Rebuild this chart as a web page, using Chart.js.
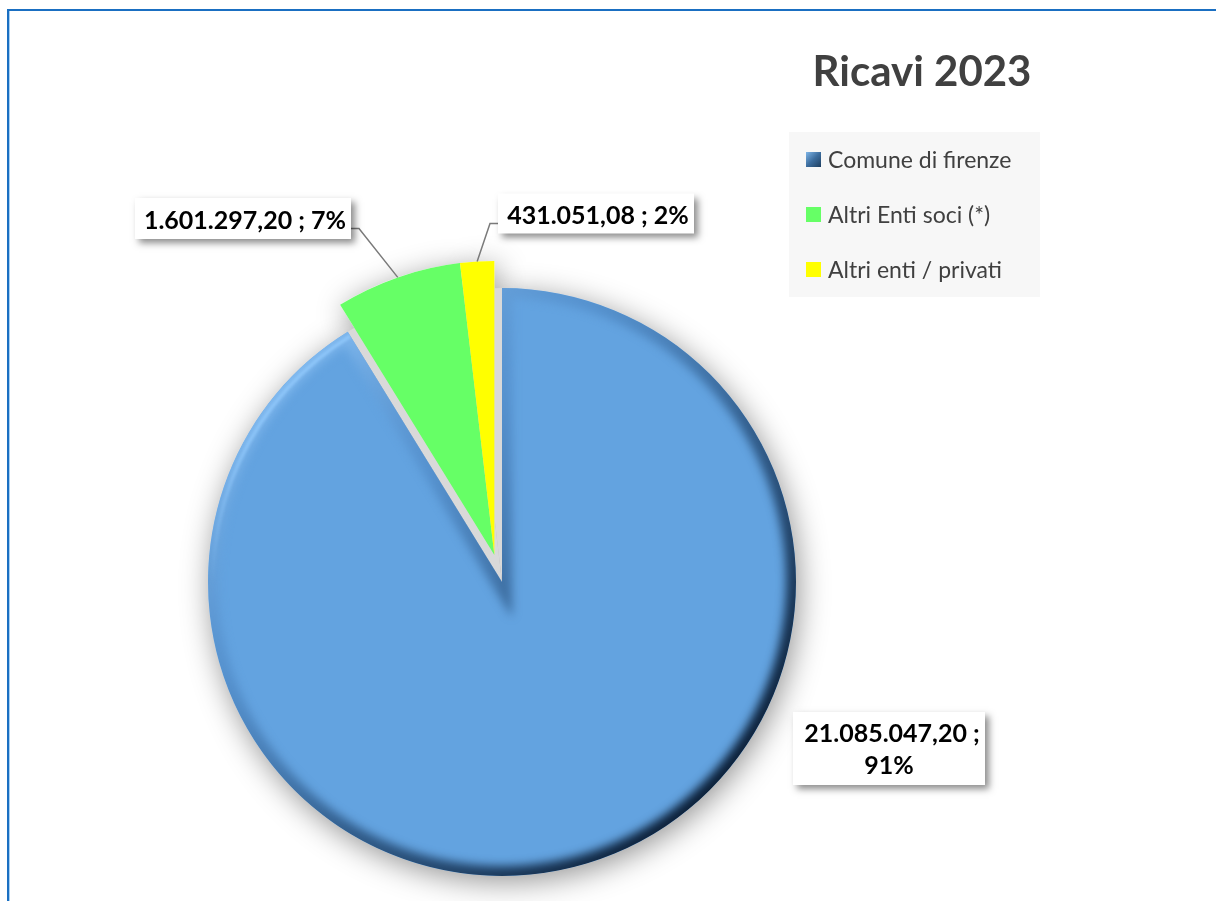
<!DOCTYPE html>
<html lang="it">
<head>
<meta charset="utf-8">
<title>Ricavi 2023</title>
<script src="https://cdn.jsdelivr.net/npm/chart.js@4.4.1/dist/chart.umd.min.js"></script>
<style>
  html, body { margin: 0; padding: 0; background: #fff; overflow: hidden; }
  #wrap { position: relative; width: 1216px; height: 901px; }
  #frame {
    position: absolute; left: 7px; top: 9px; right: -20px; bottom: -20px;
    border-top: 2px solid #1a6fc2; border-left: 2px solid #1a6fc2;
    box-shadow: inset 1px 0 0 #a9d0f2;
    pointer-events: none;
  }
  canvas { position: absolute; left: 0; top: 0; }
</style>
</head>
<body>
<div id="wrap">
  <canvas id="ricaviChart" width="1216" height="901"></canvas>
  <div id="frame"></div>
</div>
<script>
// Ricavi 2023 — ripartizione per fonte
const voci = ["Comune di firenze", "Altri Enti soci (*)", "Altri enti / privati"];
const ricavi = [21085047.20, 1601297.20, 431051.08];
const colori = ["#63a3e0", "#66ff66", "#ffff00"];
const staccati = [false, true, true];   // fette estratte dal grafico
const distacco = 28;                     // px

// box etichette (centro, dimensioni) e a capo
const boxEtichette = [
  { cx: 889, cy: 748.5, w: 192, h: 73, aCapo: true },
  { cx: 243, cy: 218.5, w: 216, h: 41 },
  { cx: 596, cy: 213.5, w: 196, h: 40 }
];

const totale = ricavi.reduce((s, v) => s + v, 0);

const formatIt = (v) => {
  const [i, d] = v.toFixed(2).split(".");
  return i.replace(/\B(?=(\d{3})+(?!\d))/g, ".") + "," + d;
};
const perc = (v) => Math.round(v / totale * 100) + "%";

const arcPath = (ctx, x, y, r, a0, a1) => {
  ctx.beginPath();
  ctx.moveTo(x, y);
  ctx.arc(x, y, r, a0, a1);
  ctx.closePath();
};

// sposta le fette staccate lungo la bisettrice del gruppo
const explodePlugin = {
  id: "explode",
  afterDatasetsUpdate(chart) {
    const arcs = chart.getDatasetMeta(0).data;
    const pulled = arcs.filter((a, i) => staccati[i]);
    if (!pulled.length) return;
    const start = Math.min(...pulled.map(a => a.startAngle));
    const end = Math.max(...pulled.map(a => a.endAngle));
    const mid = (start + end) / 2;
    pulled.forEach(a => {
      a.$home = { x: a.x, y: a.y };
      a.x += Math.cos(mid) * distacco;
      a.y += Math.sin(mid) * distacco;
    });
  }
};

// ombra sotto le fette + smusso sulla fetta principale
const shadePlugin = {
  id: "shade",
  beforeDatasetsDraw(chart) {
    const ctx = chart.ctx;
    const arcs = chart.getDatasetMeta(0).data;
    // ombra esterna: sagome bianche con shadow, poi coperte dalle fette
    ctx.save();
    ctx.shadowColor = "rgba(0,0,0,0.42)";
    ctx.shadowBlur = 30;
    ctx.shadowOffsetX = 3;
    ctx.shadowOffsetY = 6;
    ctx.fillStyle = "#fff";
    arcs.forEach(a => {
      arcPath(ctx, a.x, a.y, a.outerRadius, a.startAngle, a.endAngle);
      ctx.fill();
    });
    ctx.restore();
    // fondo grigio nel vuoto lasciato dalle fette staccate
    ctx.save();
    ctx.fillStyle = "#d9d9d9";
    arcs.forEach(a => {
      if (!a.$home) return;
      arcPath(ctx, a.$home.x, a.$home.y, a.outerRadius, a.startAngle, a.endAngle);
      ctx.fill();
    });
    ctx.restore();
  },
  afterDatasetsDraw(chart) {
    const ctx = chart.ctx;
    const a = chart.getDatasetMeta(0).data[0];
    const r = a.outerRadius;
    ctx.save();
    arcPath(ctx, a.x, a.y, r, a.startAngle, a.endAngle);
    ctx.clip();
    const g = ctx.createLinearGradient(a.x - r * 0.8, a.y - r * 0.8, a.x + r * 0.8, a.y + r * 0.8);
    g.addColorStop(0, "rgba(150,205,255,0.9)");
    g.addColorStop(0.3, "rgba(70,125,185,0.45)");
    g.addColorStop(0.6, "rgba(30,65,105,0.7)");
    g.addColorStop(1, "rgba(5,20,40,1)");
    ctx.filter = "blur(5px)";
    ctx.lineWidth = 20;
    ctx.strokeStyle = g;
    arcPath(ctx, a.x, a.y, r, a.startAngle, a.endAngle);
    ctx.stroke();
    // filo di luce sul bordo in alto a sinistra
    const h = ctx.createLinearGradient(a.x - r, a.y, a.x - r * 0.4, a.y - r);
    h.addColorStop(0, "rgba(150,205,255,0)");
    h.addColorStop(0.4, "rgba(150,205,255,0.8)");
    h.addColorStop(1, "rgba(150,205,255,0.9)");
    ctx.filter = "blur(1.5px)";
    ctx.lineWidth = 3;
    ctx.strokeStyle = h;
    ctx.beginPath();
    ctx.arc(a.x, a.y, r - 5, Math.PI * 0.95, Math.min(a.endAngle, Math.PI * 1.45));
    ctx.stroke();
    ctx.restore();
  }
};

// titolo, legenda ed etichette dati
const decorPlugin = {
  id: "decor",
  afterDraw(chart) {
    const ctx = chart.ctx;
    const arcs = chart.getDatasetMeta(0).data;
    ctx.save();

    ctx.fillStyle = "#404040";
    ctx.font = "bold 42px Lato";
    ctx.textAlign = "center";
    ctx.textBaseline = "alphabetic";
    ctx.fillText("Ricavi 2023", 922, 86);

    // legenda
    ctx.fillStyle = "#f7f7f7";
    ctx.fillRect(789, 132, 251, 165);
    ctx.font = "23px Lato";
    ctx.textAlign = "left";
    voci.forEach((v, i) => {
      const y = 159.5 + i * 55;
      if (i === 0) {
        const mg = ctx.createLinearGradient(806, y - 7.5, 821, y + 7.5);
        mg.addColorStop(0, "#7fb6e8");
        mg.addColorStop(0.5, "#3c6d9e");
        mg.addColorStop(1, "#1f3f60");
        ctx.fillStyle = mg;
      } else {
        ctx.fillStyle = colori[i];
      }
      ctx.fillRect(806, y - 7.5, 15, 15);
      ctx.fillStyle = "#404040";
      ctx.fillText(v, 828, y + 8);
    });

    // etichette
    arcs.forEach((a, i) => {
      const b = boxEtichette[i];
      const left = b.cx - b.w / 2, top = b.cy - b.h / 2;
      if (staccati[i]) {
        const mid = (a.startAngle + a.endAngle) / 2;
        const px = a.x + Math.cos(mid) * a.outerRadius;
        const py = a.y + Math.sin(mid) * a.outerRadius;
        const side = px < left ? left : left + b.w;
        const ex = px < left ? left - 8 : left + b.w + 8;
        ctx.strokeStyle = "#7a7a7a";
        ctx.lineWidth = 1.5;
        ctx.beginPath();
        ctx.moveTo(px, py);
        ctx.lineTo(ex, b.cy + 10);
        ctx.lineTo(side, b.cy + 10);
        ctx.stroke();
      }
      ctx.save();
      ctx.shadowColor = "rgba(0,0,0,0.45)";
      ctx.shadowBlur = 7;
      ctx.shadowOffsetX = 4;
      ctx.shadowOffsetY = 4;
      ctx.fillStyle = "#fff";
      ctx.fillRect(left, top, b.w, b.h);
      ctx.restore();

      ctx.fillStyle = "#000";
      ctx.font = "bold 25px Lato";
      ctx.textAlign = "center";
      const val = formatIt(ricavi[i]), p = perc(ricavi[i]);
      if (b.aCapo) {
        ctx.fillText(val + " ;", b.cx + 3, b.cy - 6.5);
        ctx.fillText(p, b.cx, b.cy + 25.5);
      } else {
        ctx.fillText(val + " ; " + p, b.cx + 2, b.cy + 10);
      }
    });
    ctx.restore();
  }
};

const draw = () => {
  new Chart(document.getElementById("ricaviChart"), {
    type: "pie",
    data: {
      labels: voci,
      datasets: [{
        data: ricavi,
        backgroundColor: colori,
        borderWidth: 0,
        radius: 294,
        hoverOffset: 0,
        clip: false
      }]
    },
    options: {
      responsive: false,
      animation: false,
      events: [],
      layout: { padding: { left: 0, right: 212, top: 263, bottom: 0 } },
      plugins: {
        legend: { display: false },
        tooltip: { enabled: false },
        title: { display: false }
      }
    },
    plugins: [explodePlugin, shadePlugin, decorPlugin]
  });
};

Promise.all([document.fonts.load("bold 25px Lato"), document.fonts.load("23px Lato")])
  .then(draw, draw);
</script>
</body>
</html>
